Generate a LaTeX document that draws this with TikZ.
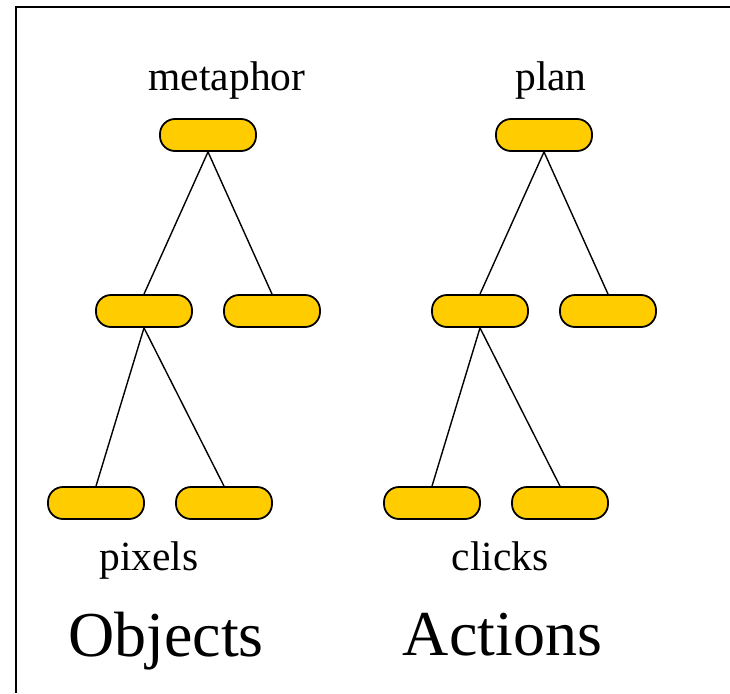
\documentclass[tikz,border=0pt]{standalone}
\usepackage{fontspec}
\setmainfont{Liberation Serif}
\definecolor{pill}{RGB}{255,204,0}
\tikzset{
  pillbox/.style={draw=black, line width=1.8pt, fill=pill, rounded corners=15pt,
    minimum width=96pt, minimum height=32pt, inner sep=0pt},
  link/.style={line width=1.4pt},
  lbl/.style={anchor=base, inner sep=0pt, font=\fontsize{41.5}{48}\selectfont},
  ttl/.style={anchor=base, inner sep=0pt, font=\fontsize{64}{74}\selectfont}
}
\begin{document}
\begin{tikzpicture}[x=1pt,y=-1pt]
\useasboundingbox (0,0) rectangle (730,693);
\draw[line width=2pt] (730,7) -- (16,7) -- (16,693);
% left tree
\node[pillbox] (lt) at (208,135) {};
\node[pillbox] (lm1) at (144,311) {};
\node[pillbox] (lm2) at (272,311) {};
\node[pillbox] (lb1) at (96,503) {};
\node[pillbox] (lb2) at (224,503) {};
\draw[link] (lt.south) -- (lm1.north);
\draw[link] (lt.south) -- (lm2.north);
\draw[link] (lm1.south) -- (lb1.north);
\draw[link] (lm1.south) -- (lb2.north);
% right tree
\node[pillbox] (rt) at (544,135) {};
\node[pillbox] (rm1) at (480,311) {};
\node[pillbox] (rm2) at (608,311) {};
\node[pillbox] (rb1) at (432,503) {};
\node[pillbox] (rb2) at (560,503) {};
\draw[link] (rt.south) -- (rm1.north);
\draw[link] (rt.south) -- (rm2.north);
\draw[link] (rm1.south) -- (rb1.north);
\draw[link] (rm1.south) -- (rb2.north);
% labels
\node[lbl] (metaphor) at (227,90) {metaphor};
\node[lbl] (plan) at (551,90) {plan};
\node[lbl] (pixels) at (149,570) {pixels};
\node[lbl] (clicks) at (500,570) {clicks};
\node[ttl] (objects) at (166,656) {Objects};
\node[ttl] (actions) at (502.5,655) {Actions};
\end{tikzpicture}
\end{document}
